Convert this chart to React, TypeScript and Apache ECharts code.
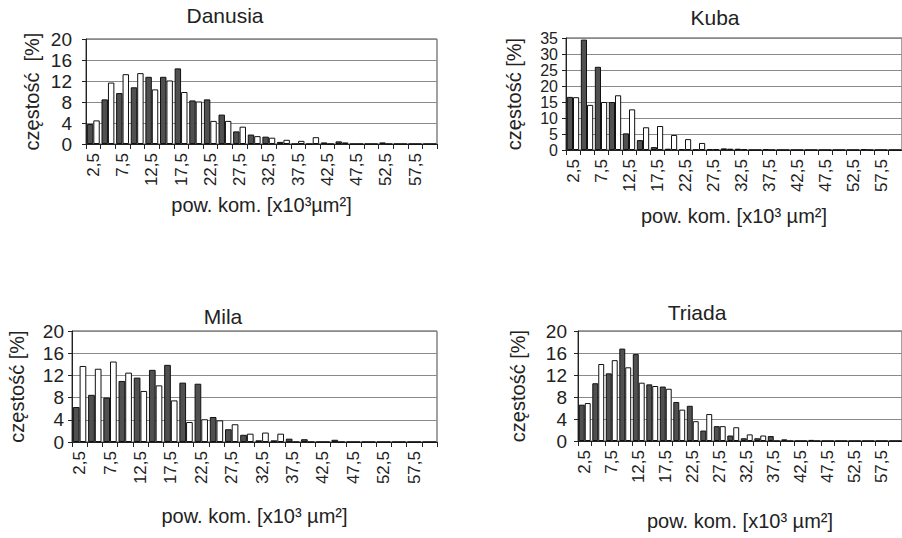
import React, { useEffect, useRef } from "react";
import * as echarts from "echarts";

const categories = ["2,5","5","7,5","10","12,5","15","17,5","20","22,5","25","27,5","30","32,5","35","37,5","40","42,5","45","47,5","50","52,5","55","57,5","60"];

const danusiaDark = [3.8, 8.5, 9.7, 10.8, 12.8, 12.8, 14.4, 8.3, 8.5, 5.6, 2.4, 1.8, 1.4, 0.4, 0, 0, 0.3, 0.5, 0, 0, 0.3, 0, 0, 0];
const danusiaWhite = [4.5, 11.7, 13.3, 13.5, 10.4, 12.1, 9.9, 8.1, 4.4, 4.4, 3.3, 1.5, 1.2, 0.8, 0.6, 1.3, 0, 0.3, 0, 0, 0, 0, 0, 0];
const kubaDark = [16.6, 34.5, 26.0, 15.0, 5.2, 3.1, 0.9, 0.4, 0.3, 0.1, 0.3, 0.5, 0.4, 0, 0.3, 0, 0, 0, 0, 0, 0, 0.3, 0, 0];
const kubaWhite = [16.5, 14.1, 15.0, 17.1, 12.7, 7.1, 7.5, 4.7, 3.4, 2.2, 0.3, 0.4, 0.3, 0, 0, 0, 0, 0, 0, 0, 0, 0, 0, 0];
const milaDark = [6.3, 8.5, 8.0, 11.0, 11.6, 13.0, 13.9, 10.7, 10.5, 4.5, 2.3, 1.3, 0.3, 0.3, 0.6, 0.5, 0, 0.4, 0, 0, 0, 0, 0, 0];
const milaWhite = [13.7, 13.2, 14.5, 12.5, 9.2, 10.2, 7.5, 3.6, 4.1, 3.9, 3.2, 1.5, 1.7, 1.5, 0, 0, 0, 0, 0, 0, 0, 0, 0, 0];
const triadaDark = [6.6, 10.5, 12.3, 16.8, 15.8, 10.3, 9.9, 7.1, 6.4, 1.9, 2.7, 1.0, 0.5, 0.5, 0.9, 0.3, 0, 0.2, 0, 0, 0, 0, 0, 0];
const triadaWhite = [6.9, 14.0, 14.7, 13.4, 10.6, 10.0, 9.5, 5.7, 3.6, 4.9, 2.7, 2.5, 1.2, 1.0, 0, 0, 0, 0, 0, 0, 0, 0, 0, 0];

const titles = ["Danusia", "Kuba", "Mila", "Triada"];
const yNames = ["częstość  [%]", "częstość [%]", "częstość [%]", "częstość [%]"];
const xNames = ["pow. kom. [x10³µm²]", "pow. kom. [x10³ µm²]", "pow. kom. [x10³ µm²]", "pow. kom. [x10³ µm²]"];
const yMax = [20, 35, 20, 20];
const yStep = [4, 5, 4, 4];

const FONT = "'Liberation Sans', Arial, sans-serif";
const TXT = "#222";

export default function App() {
  const ref = useRef<HTMLDivElement>(null);
  useEffect(() => {
    if (!ref.current) return;
    const chart = echarts.init(ref.current, undefined, { renderer: "svg" });
    const grids = [
      { left: 86, top: 39, width: 351, height: 105 },
      { left: 566, top: 38, width: 336, height: 112 },
      { left: 72, top: 331, width: 365, height: 111 },
      { left: 578, top: 331, width: 324, height: 110 },
    ];
    const titlePos = [
      { x: 225, y: 15 },
      { x: 715, y: 17 },
      { x: 223, y: 316 },
      { x: 697, y: 312 },
    ];
    const yGap = [44, 42, 45, 50];
    const xGap = [51, 56, 64, 70];
    const yLabelMargin = [14, 8, 8, 11];
    const yFont = [19, 16, 19, 19];
    const dark = [danusiaDark, kubaDark, milaDark, triadaDark];
    const white = [danusiaWhite, kubaWhite, milaWhite, triadaWhite];

    const series: any[] = [];
    for (let i = 0; i < 4; i++) {
      series.push({
        type: "bar",
        xAxisIndex: i,
        yAxisIndex: i,
        data: dark[i],
        barGap: "0%",
        barCategoryGap: "12%",
        itemStyle: { color: "#505050", borderColor: "#111", borderWidth: 1 },
      });
      series.push({
        type: "bar",
        xAxisIndex: i,
        yAxisIndex: i,
        data: white[i],
        barGap: "0%",
        barCategoryGap: "12%",
        itemStyle: { color: "#ffffff", borderColor: "#111", borderWidth: 1 },
      });
    }

    chart.setOption({
      animation: false,
      backgroundColor: "#fff",
      textStyle: { fontFamily: FONT, color: TXT },
      graphic: titles.map((t, i) => ({
        type: "text",
        x: titlePos[i].x,
        y: titlePos[i].y,
        style: {
          text: t,
          fontFamily: FONT,
          fontSize: 21,
          fontWeight: "normal",
          fill: TXT,
          align: "center",
          verticalAlign: "middle",
        },
      })),
      grid: grids.map((g) => ({
        ...g,
        show: true,
        borderColor: "#444",
        borderWidth: 1,
        containLabel: false,
      })),
      xAxis: grids.map((_, i) => ({
        type: "category",
        gridIndex: i,
        data: categories,
        name: xNames[i],
        nameLocation: "middle",
        nameGap: xGap[i],
        nameTextStyle: { fontFamily: FONT, fontSize: 20, color: TXT },
        axisLine: { lineStyle: { color: "#222", width: 1 } },
        axisTick: { show: true, interval: 0, length: 5, lineStyle: { color: "#222" } },
        axisLabel: {
          interval: 1,
          rotate: 90,
          margin: 9,
          fontFamily: FONT,
          fontSize: 17,
          color: TXT,
        },
        splitLine: { show: false },
      })),
      yAxis: grids.map((_, i) => ({
        type: "value",
        gridIndex: i,
        min: 0,
        max: yMax[i],
        interval: yStep[i],
        name: yNames[i],
        nameLocation: "middle",
        nameRotate: 90,
        nameGap: yGap[i],
        nameTextStyle: { fontFamily: FONT, fontSize: 20, color: TXT },
        axisLine: { show: true, lineStyle: { color: "#222", width: 1 } },
        axisTick: { show: true, length: 4, lineStyle: { color: "#222" } },
        axisLabel: {
          fontFamily: FONT,
          fontSize: yFont[i],
          lineHeight: yFont[i] - 3,
          color: TXT,
          margin: yLabelMargin[i],
          showMinLabel: true,
          showMaxLabel: true,
          hideOverlap: false,
        },
        splitLine: { show: true, lineStyle: { color: "#8a8a8a", width: 1 } },
      })),
      series,
    });
    return () => chart.dispose();
  }, []);
  return (
    <div
      ref={ref}
      style={{ position: "absolute", left: 0, top: 0, width: 902, height: 538, background: "#fff" }}
    />
  );
}
